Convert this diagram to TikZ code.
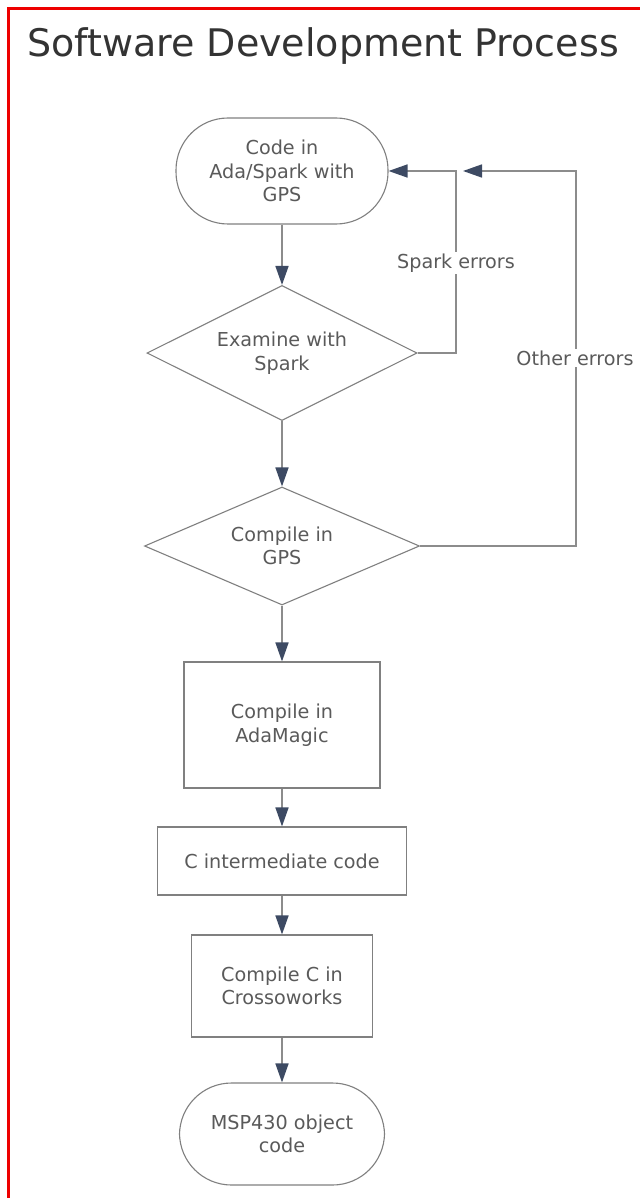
\documentclass[tikz,border=0pt]{standalone}
\usepackage{fontspec}
\setmainfont{DejaVu Sans}
\usetikzlibrary{arrows.meta,shapes.geometric}
\definecolor{framered}{HTML}{EE0000}
\definecolor{linegray}{HTML}{8C8C8C}
\definecolor{boxgray}{HTML}{808080}
\definecolor{txtgray}{HTML}{5A5A5A}
\definecolor{tipnavy}{HTML}{3D4A63}
\tikzset{
  base/.style={draw=boxgray, line width=1.1pt, fill=white, text=txtgray, align=center,
    font=\fontsize{19.2}{23.5}\selectfont, inner sep=0pt},
  term/.style={base, rectangle, rounded corners=52pt},
  boxnode/.style={base, rectangle},
  dec/.style={base, diamond, aspect=2},
  flow/.style={draw=linegray, line width=1.6pt, -{Triangle[length=19pt,width=13pt,fill=tipnavy,color=tipnavy]}},
  lbl/.style={fill=white, text=txtgray, font=\fontsize{19.2}{23.5}\selectfont, inner sep=2pt}
}
\begin{document}
\begin{tikzpicture}[x=1pt,y=-1pt]
\useasboundingbox (0,0) rectangle (640,1198);
\fill[white] (0,0) rectangle (640,1198);
\draw[framered, line width=3.5pt] (8.5,1198) -- (8.5,8.5) -- (640,8.5);
\node[text=black!80, font=\fontsize{38}{42}\selectfont, inner sep=0pt, anchor=base west] (title) at (27,57) {Software Development Process};

\node[term, minimum width=212pt, minimum height=106pt] (code) at (282,171) {Code in\\Ada/Spark with\\GPS};
\node[dec, minimum width=270pt, minimum height=135pt] (spark) at (282,353) {Examine with\\Spark};
\node[dec, minimum width=275pt, minimum height=118pt] (gps) at (282,546) {Compile in\\GPS};
\node[boxnode, minimum width=196pt, minimum height=126pt] (ada) at (282,725) {Compile in\\AdaMagic};
\node[boxnode, minimum width=249pt, minimum height=68pt] (cint) at (282,861) {C intermediate code};
\node[boxnode, minimum width=181pt, minimum height=102pt] (cross) at (282,986) {Compile C in\\Crossoworks};
\node[term, minimum width=205pt, minimum height=102pt] (msp) at (282,1134) {MSP430 object\\code};

\draw[flow] (code) -- (spark);
\draw[flow] (spark) -- (gps);
\draw[flow] (gps) -- (ada);
\draw[flow] (ada) -- (cint);
\draw[flow] (cint) -- (cross);
\draw[flow] (cross) -- (msp);

\coordinate (sp1) at (456,353);
\coordinate (sp2) at (456,171);
\draw[flow] (spark.east) -- (sp1) -- (sp2) -- (code.east);
\node[lbl] (splbl) at (456,263) {Spark errors};

\coordinate (ot1) at (576,546);
\coordinate (ot2) at (576,171);
\coordinate (otend) at (463,171);
\draw[flow] (gps.east) -- (ot1) -- (ot2) -- (otend);
\node[lbl] (otlbl) at (575,358) {Other errors};
\end{tikzpicture}
\end{document}
